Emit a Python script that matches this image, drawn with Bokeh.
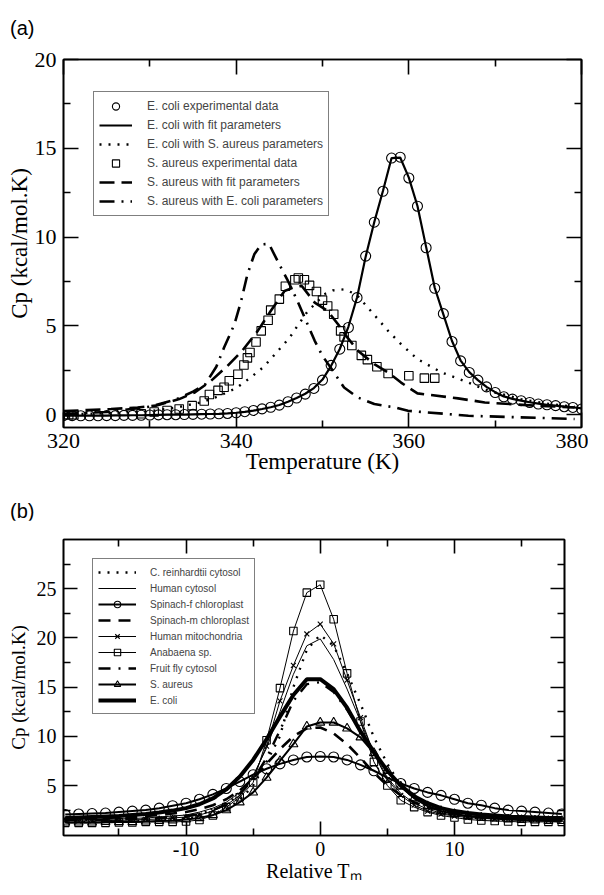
from bokeh.plotting import figure
from bokeh.layouts import column
from bokeh.models import (Range1d, FixedTicker, LinearAxis, Legend, LegendItem, Div,
                          CustomJSTickFormatter)
from bokeh.embed import file_html
from bokeh.resources import INLINE

# ---------------- Panel (a) data ----------------
ecoli_T = list(range(320, 381))
ecoli_exp = [-0.05, -0.05, -0.06, -0.06, -0.06, -0.05, -0.05, -0.04, -0.04, -0.03,
             -0.02, -0.01, 0.0, 0.0, 0.01, 0.02, 0.03, 0.04, 0.05, 0.07,
             0.11, 0.17, 0.24, 0.33, 0.42, 0.54, 0.73, 0.94, 1.16, 1.48,
             1.95, 2.78, 3.69, 4.91, 6.59, 8.93, 10.84, 12.58, 14.45, 14.5,
             13.33, 11.74, 9.40, 7.12, 5.69, 4.12, 3.03, 2.38, 1.95, 1.57,
             1.25, 1.01, 0.88, 0.79, 0.69, 0.60, 0.56, 0.51, 0.45, 0.41, 0.32]
ecoli_fit = [-0.05, -0.05, -0.05, -0.05, -0.05, -0.05, -0.04, -0.04, -0.03, -0.03,
             -0.02, -0.01, 0.0, 0.0, 0.01, 0.02, 0.03, 0.04, 0.05, 0.07,
             0.11, 0.16, 0.23, 0.32, 0.42, 0.55, 0.73, 0.94, 1.18, 1.50,
             1.98, 2.75, 3.70, 4.95, 6.60, 8.90, 10.85, 12.60, 14.45, 14.48,
             13.35, 11.75, 9.45, 7.15, 5.65, 4.15, 3.05, 2.40, 1.95, 1.57,
             1.27, 1.03, 0.89, 0.79, 0.70, 0.62, 0.56, 0.51, 0.46, 0.42, 0.36]

saureus_T = [320.0, 320.6, 321.2, 329.0, 330.5, 332.0, 333.4, 334.9, 336.3, 336.9,
             337.9, 338.6, 339.2, 340.2, 340.9, 341.3, 341.6, 342.3, 342.9, 343.7,
             344.0, 345.0, 345.7, 346.8, 347.2, 347.9, 348.5, 349.3, 350.0, 350.6,
             351.3, 352.1, 352.5, 353.4, 354.5, 355.2, 356.3, 357.6, 360.0, 361.8, 363.0]
saureus_exp = [0.0, 0.0, 0.0, 0.05, 0.15, 0.24, 0.32, 0.51, 0.77, 1.14,
               1.37, 1.55, 1.91, 2.28, 2.80, 3.20, 3.50, 4.09, 4.72, 5.32,
               5.89, 6.51, 7.23, 7.60, 7.70, 7.60, 7.28, 6.94, 6.45, 6.12,
               5.66, 4.72, 4.38, 3.90, 3.34, 3.10, 2.70, 2.32, 2.19, 2.06, 2.06]

safit_T = [320, 322.7, 325.5, 328.6, 330.7, 333.4, 335.2, 337.1, 339.0, 340.7,
           342.5, 344.0, 345.6, 346.8, 347.6, 349.1, 350.6, 351.8, 352.9, 354.1,
           356.0, 357.6, 359.1, 361.0, 365.7, 368.8, 374.6, 379.2]
safit_cp = [0.20, 0.26, 0.32, 0.41, 0.51, 0.88, 1.25, 1.91, 2.75, 3.60,
            4.72, 5.84, 6.97, 7.19, 7.25, 6.31, 5.84, 5.09, 4.34, 3.60,
            2.85, 2.38, 1.81, 1.20, 0.92, 0.69, 0.51, 0.41]

ec_sa_T = [320, 325, 330, 333, 336, 338, 340.0, 341.7, 343.1, 344.0,
           346.2, 347.1, 348.3, 349.3, 350.2, 351.2, 352.5, 353.9, 355.6, 357.6,
           359.1, 361.0, 363.8, 366.9, 369.2, 373.0, 376.0, 379.2]
ec_sa_cp = [0.02, 0.08, 0.20, 0.40, 0.70, 1.05, 1.50, 2.10, 2.66, 3.13,
            4.34, 5.00, 5.84, 6.31, 6.78, 7.00, 7.06, 6.78, 5.84, 4.72,
            3.97, 3.13, 2.38, 1.81, 1.35, 0.88, 0.62, 0.45]

sa_ec_T = [320, 325, 330, 333, 335, 336.4, 337.7, 338.6, 339.8, 340.6,
           341.3, 342.1, 342.9, 343.8, 344.8, 346.0, 347.1, 348.1, 349.1, 350.0,
           351.2, 352.5, 354.1, 356.0, 358.4, 359.9, 366.9, 379.2]
sa_ec_cp = [0.05, 0.15, 0.45, 0.85, 1.30, 1.70, 2.70, 3.78, 5.09, 6.45,
            7.90, 9.03, 9.59, 9.62, 8.65, 7.53, 6.40, 5.28, 4.16, 3.31,
            2.47, 1.53, 0.97, 0.60, 0.41, 0.22, -0.06, -0.24]

a_xticks = [320, 340, 360, 380]
a_xminor = [330, 350, 370]
a_yticks = [0, 5, 10, 15, 20]
a_yminor = [2.5, 7.5, 12.5, 17.5]

# ---------------- Panel (b) data ----------------
rel_T = list(range(-19, 19))
c_reinhardtii = [1.30, 1.30, 1.30, 1.35, 1.35, 1.40, 1.45, 1.50, 1.55,
                 1.65, 1.80, 2.10, 2.60, 3.50, 5.00, 7.40, 10.0, 15.0, 18.8, 20.3,
                 19.2, 16.4, 13.3, 9.9, 7.2, 5.0, 3.7, 2.8, 2.3, 2.0,
                 1.80, 1.65, 1.55, 1.50, 1.45, 1.40, 1.40, 1.40]
human_cyt = [1.50, 1.50, 1.55, 1.55, 1.60, 1.65, 1.70, 1.80, 1.90,
             2.0, 2.3, 2.7, 3.3, 4.3, 6.0, 8.8, 12.5, 16.3, 19.2, 19.9,
             17.8, 14.8, 11.5, 8.3, 5.8, 4.2, 3.2, 2.6, 2.2, 2.0,
             1.85, 1.75, 1.70, 1.65, 1.60, 1.60, 1.55, 1.55]
spinach_f = [2.05, 2.10, 2.15, 2.20, 2.30, 2.40, 2.50, 2.70, 2.95,
             3.2, 3.6, 4.1, 4.7, 5.4, 6.1, 6.7, 7.2, 7.6, 7.9, 7.95,
             7.9, 7.6, 7.1, 6.5, 5.8, 5.2, 4.7, 4.3, 4.0, 3.6,
             3.2, 3.0, 2.7, 2.5, 2.4, 2.3, 2.2, 2.1]
spinach_m = [1.60, 1.60, 1.65, 1.70, 1.75, 1.80, 1.90, 2.00, 2.15,
             2.3, 2.6, 3.0, 3.6, 4.5, 5.7, 7.2, 8.7, 10.0, 10.8, 10.9,
             10.3, 9.2, 7.8, 6.3, 5.0, 4.0, 3.3, 2.8, 2.5, 2.25,
             2.10, 2.00, 1.90, 1.80, 1.75, 1.70, 1.70, 1.65]
human_mito = [1.40, 1.40, 1.40, 1.45, 1.45, 1.50, 1.55, 1.60, 1.70,
              1.8, 2.0, 2.4, 3.0, 4.0, 5.8, 9.0, 13.6, 17.2, 20.4, 21.4,
              19.4, 15.7, 11.9, 8.2, 5.6, 4.0, 3.0, 2.4, 2.1, 1.9,
              1.75, 1.65, 1.60, 1.55, 1.50, 1.50, 1.45, 1.45]
anabaena = [1.20, 1.20, 1.20, 1.20, 1.25, 1.25, 1.30, 1.30, 1.30,
            1.35, 1.5, 1.95, 2.8, 3.8, 5.3, 9.6, 14.9, 20.7, 24.6, 25.4,
            21.9, 16.4, 11.5, 7.4, 5.0, 3.5, 2.8, 2.3, 1.95, 1.75,
            1.55, 1.45, 1.40, 1.35, 1.30, 1.30, 1.30, 1.30]
fruit_fly = [1.50, 1.50, 1.50, 1.55, 1.55, 1.60, 1.65, 1.70, 1.80,
             1.9, 2.1, 2.5, 3.1, 4.1, 5.6, 7.8, 10.6, 13.6, 15.3, 15.5,
             14.5, 12.7, 10.5, 8.4, 6.5, 5.0, 3.9, 3.1, 2.6, 2.3,
             2.0, 1.9, 1.8, 1.7, 1.65, 1.6, 1.6, 1.55]
s_aureus_b = [1.25, 1.25, 1.25, 1.30, 1.30, 1.30, 1.35, 1.40, 1.45,
              1.55, 1.7, 2.0, 2.5, 3.3, 4.3, 5.8, 7.5, 9.2, 11.0, 11.4,
              11.4, 10.8, 9.9, 8.3, 6.5, 4.9, 3.7, 2.9, 2.4, 2.1,
              1.9, 1.75, 1.65, 1.55, 1.50, 1.45, 1.40, 1.40]
e_coli_b = [1.70, 1.75, 1.80, 1.85, 1.90, 2.00, 2.10, 2.25, 2.45,
            2.7, 3.1, 3.7, 4.6, 5.9, 7.6, 9.7, 12.0, 14.2, 15.8, 15.8,
            14.8, 12.9, 10.5, 8.4, 6.5, 5.0, 3.9, 3.2, 2.7, 2.4,
            2.2, 2.05, 1.95, 1.85, 1.80, 1.75, 1.70, 1.70]

b_xticks = [-10, 0, 10]
b_xminor = [-15, -5, 5, 15]
b_yticks = [5, 10, 15, 20, 25]
b_yminor = [2.5, 7.5, 12.5, 17.5, 22.5, 27.5]

SERIF = "Liberation Serif"
SANS = "Liberation Sans"


def frame_axes(p, xt, xm, yt, ym, fs, tick_len, minor_len, overrides=None):
    bottom = p.below[0]
    left = p.left[0]
    xtk = FixedTicker(ticks=xt, minor_ticks=xm)
    ytk = FixedTicker(ticks=yt, minor_ticks=ym)
    bottom.ticker = xtk
    left.ticker = ytk
    blank = CustomJSTickFormatter(code="return '';")
    top = LinearAxis(ticker=xtk, formatter=blank)
    right = LinearAxis(ticker=ytk, formatter=blank)
    p.add_layout(top, "above")
    p.add_layout(right, "right")
    for ax in [bottom, left, top, right]:
        ax.axis_line_width = 1.6
        ax.axis_line_color = "black"
        ax.major_tick_in = tick_len
        ax.major_tick_out = 0
        ax.minor_tick_in = minor_len
        ax.minor_tick_out = 0
        ax.major_tick_line_width = 1.6
        ax.minor_tick_line_width = 1.6
        ax.major_label_text_font = SERIF
        ax.major_label_text_font_size = fs
        ax.major_label_text_color = "black"
        ax.axis_label_text_font = SERIF
        ax.axis_label_text_font_style = "normal"
        ax.axis_label_text_color = "black"
    bottom.major_label_standoff = 6
    left.major_label_standoff = 7
    for ax in [top, right]:
        ax.major_label_standoff = 0
        ax.major_label_text_font_size = "1px"
    if overrides:
        bottom.major_label_overrides = overrides
    p.xgrid.visible = False
    p.ygrid.visible = False
    p.outline_line_color = "black"
    p.outline_line_width = 1.6
    return bottom, left


# ---------------- Figure (a) ----------------
pa = figure(frame_width=518, frame_height=368, min_border_left=62, min_border_right=8,
            min_border_top=19, min_border_bottom=53,
            x_range=Range1d(320, 380), y_range=Range1d(-0.72, 20),
            output_backend="svg", toolbar_location=None)
ba, la = frame_axes(pa, a_xticks, a_xminor, a_yticks, a_yminor, "22px", 15, 7)
ba.axis_label = "Temperature (K)"
ba.axis_label_text_font_size = "23px"
ba.axis_label_standoff = -2
la.axis_label = "Cp (kcal/mol.K)"
la.axis_label_text_font_size = "23px"
la.axis_label_standoff = 0

r_ec_fit = pa.line(ecoli_T, ecoli_fit, line_color="black", line_width=2.2)
r_ec_sa = pa.line(ec_sa_T, ec_sa_cp, line_color="black", line_width=2.4, line_dash="2 7")
r_sa_fit = pa.line(safit_T, safit_cp, line_color="black", line_width=2.6, line_dash="15 7")
r_sa_ec = pa.line(sa_ec_T, sa_ec_cp, line_color="black", line_width=2.6, line_dash="15 7 2 7")
r_ec_exp = pa.scatter(ecoli_T, ecoli_exp, marker="circle", size=10, fill_color=None,
                      line_color="black", line_width=1.1)
r_sa_exp = pa.scatter(saureus_T, saureus_exp, marker="square", size=8.5, fill_color=None,
                      line_color="black", line_width=1.1)

leg_a = Legend(items=[
    LegendItem(label="E. coli experimental data", renderers=[r_ec_exp]),
    LegendItem(label="E. coli with fit parameters", renderers=[r_ec_fit]),
    LegendItem(label="E. coli with S. aureus parameters", renderers=[r_ec_sa]),
    LegendItem(label="S. aureus experimental data", renderers=[r_sa_exp]),
    LegendItem(label="S. aureus with fit parameters", renderers=[r_sa_fit]),
    LegendItem(label="S. aureus with E. coli parameters", renderers=[r_sa_ec]),
], location=(30, 211))
leg_a.label_text_font = SANS
leg_a.label_text_font_size = "12px"
leg_a.glyph_width = 33
leg_a.glyph_height = 18
leg_a.label_height = 18
leg_a.spacing = 1
leg_a.padding = 5
leg_a.label_standoff = 15
leg_a.border_line_color = "black"
leg_a.border_line_width = 1.2
leg_a.margin = 0
pa.add_layout(leg_a, "center")

# ---------------- Figure (b) ----------------
pb = figure(frame_width=501, frame_height=296, min_border_left=63, min_border_right=8,
            min_border_top=19, min_border_bottom=55,
            x_range=Range1d(-19.13, 18.2), y_range=Range1d(-0.08, 30),
            output_backend="svg", toolbar_location=None)
bb, lb = frame_axes(pb, b_xticks, b_xminor, b_yticks, b_yminor, "20px", 14, 7,
                    overrides={-10: "-10", 0: "0", 10: "10"})
bb.axis_label = "Relative T\u2098"
bb.axis_label_text_font_size = "20px"
bb.axis_label_standoff = 1
lb.axis_label = "Cp (kcal/mol.K)"
lb.axis_label_text_font_size = "19px"
lb.axis_label_standoff = 5

rc = pb.line(rel_T, c_reinhardtii, line_color="black", line_width=2.4, line_dash="2 7")
rh = pb.line(rel_T, human_cyt, line_color="black", line_width=1.0)
rsf_l = pb.line(rel_T, spinach_f, line_color="black", line_width=2.0)
rsf_m = pb.scatter(rel_T, spinach_f, marker="circle", size=10, fill_color=None,
                   line_color="black", line_width=1.1)
rsm = pb.line(rel_T, spinach_m, line_color="black", line_width=2.6, line_dash="12 8")
rmi_l = pb.line(rel_T, human_mito, line_color="black", line_width=1.0)
rmi_m = pb.scatter(rel_T, human_mito, marker="x", size=7, line_color="black", line_width=1.1)
ran_l = pb.line(rel_T, anabaena, line_color="black", line_width=1.0)
ran_m = pb.scatter(rel_T, anabaena, marker="square", size=7.5, fill_color=None,
                   line_color="black", line_width=1.1)
rff = pb.line(rel_T, fruit_fly, line_color="black", line_width=2.4, line_dash="12 8 2 8")
rsa_l = pb.line(rel_T, s_aureus_b, line_color="black", line_width=2.0)
rsa_m = pb.scatter(rel_T, s_aureus_b, marker="triangle", size=9, fill_color=None,
                   line_color="black", line_width=1.1)
rec = pb.line(rel_T, e_coli_b, line_color="black", line_width=4.0)

leg_b = Legend(items=[
    LegendItem(label="C. reinhardtii cytosol", renderers=[rc]),
    LegendItem(label="Human cytosol", renderers=[rh]),
    LegendItem(label="Spinach-f chloroplast", renderers=[rsf_l, rsf_m]),
    LegendItem(label="Spinach-m chloroplast", renderers=[rsm]),
    LegendItem(label="Human mitochondria", renderers=[rmi_l, rmi_m]),
    LegendItem(label="Anabaena sp.", renderers=[ran_l, ran_m]),
    LegendItem(label="Fruit fly cytosol", renderers=[rff]),
    LegendItem(label="S. aureus", renderers=[rsa_l, rsa_m]),
    LegendItem(label="E. coli", renderers=[rec]),
], location=(29, 121))
leg_b.label_text_font = SANS
leg_b.label_text_font_size = "10px"
leg_b.glyph_width = 38
leg_b.glyph_height = 16
leg_b.label_height = 16
leg_b.spacing = 0
leg_b.padding = 5
leg_b.label_standoff = 14
leg_b.border_line_color = "black"
leg_b.border_line_width = 1.2
leg_b.margin = 0
pb.add_layout(leg_b, "center")

LBL = ("position:relative;left:{l}px;top:{t}px;font-family:'Liberation Sans';"
       "font-size:20px;line-height:23px;color:black;")
div_a = Div(text='<div style="' + LBL.format(l=10, t=17) + '">(a)</div>',
            width=80, height=40, margin=0)
div_b = Div(text='<div style="' + LBL.format(l=10, t=20) + '">(b)</div>',
            width=80, height=40, margin=0)

layout = column(div_a, pa, div_b, pb, spacing=0)
open("out.html", "w").write(file_html(layout, INLINE))
